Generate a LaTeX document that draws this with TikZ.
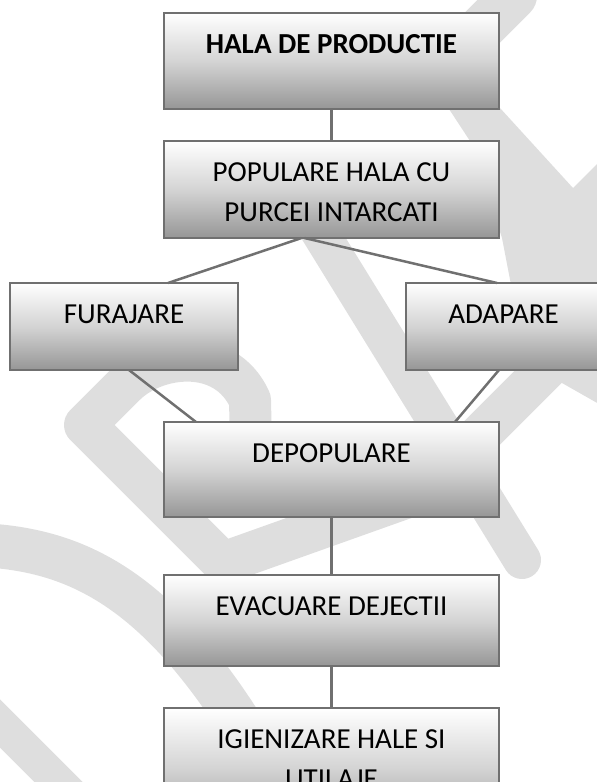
\documentclass[tikz,border=0pt]{standalone}
\usepackage{fontspec}
\setmainfont{Carlito}
\usepackage{tikz}
\usetikzlibrary{positioning, calc}
\definecolor{framegray}{RGB}{112,112,112}
\definecolor{wmgray}{RGB}{222,222,222}
\definecolor{shadelow}{RGB}{150,150,150}
\definecolor{shademid}{RGB}{212,212,212}
\tikzstyle{box} = [rectangle, draw=framegray, line width=2.5pt, top color=white, bottom color=shadelow, middle color=shademid, inner xsep=0pt, inner ysep=0pt, outer sep=0pt, text height=40pt, align=center, font=\fontsize{29pt}{40pt}\selectfont]
\tikzstyle{wide} = [minimum width=335pt]
\tikzstyle{narrow} = [minimum width=228pt]
\tikzstyle{link} = [draw=framegray, line width=2.5pt]
\tikzstyle{wmark} = [draw=wmgray, line cap=round, line join=round]

\begin{document}
\begin{tikzpicture}[x=1pt, y=-1pt, node distance=32pt]
        \useasboundingbox (0,0) rectangle (597,782);
        \clip (0,0) rectangle (597,782);

        % watermark in the background
        \draw [wmark, line width=46pt] (514,-4) -- (440,70);
        \fill [wmgray] (440,100) -- (500,108) -- (573,188) -- (650,111) -- (650,433) -- (562,383) -- (545,365) -- (512,290) -- (502,238) -- (470,141) -- (449,109) -- cycle;
        \draw [wmark, line width=38pt] (300,200) -- (522,560);
        \draw [wmark, line width=42pt] (620,295) -- (423.6,491.4) -- (222.9,562.9) -- (85,425) -- (125,385) .. controls (155,355) and (225,345) .. (250,400) -- (252,490);
        \draw [wmark, line width=44pt] (-20,545) .. controls (90,550) and (180,600) .. (290,810);
        \draw [wmark, line width=34pt] (-40,683.5) -- (120,843.5);

        \node (hala) [box, wide, text depth=56pt, anchor=north] at (331.5,13) {\textbf{HALA DE PRODUCTIE}};
        \node (popul) [box, wide, text height=80pt, text depth=17pt, below=of hala] {POPULARE HALA CU\\PURCEI INTARCATI};
        \node (fur) [box, narrow, text depth=47pt, below=45pt of popul, xshift=-207.5pt] {FURAJARE};
        \node (adap) [box, minimum width=195pt, text depth=47pt, below=45pt of popul, xshift=172pt] {ADAPARE};
        \node (depop) [box, wide, text depth=55pt, below=52pt of fur, xshift=207.5pt] {DEPOPULARE};
        \node (evac) [box, wide, text depth=51pt, below=58pt of depop] {EVACUARE DEJECTII};
        \node (igien) [box, wide, text height=80pt, text depth=40pt, below=42pt of evac] {IGIENIZARE HALE SI\\UTILAJE};

        \draw [link] (hala) -- (popul);
        \draw [link] ([xshift=-30pt]popul.south) -- ([xshift=44pt]fur.north);
        \draw [link] ([xshift=-27pt]popul.south) -- ([xshift=-6.5pt]adap.north);
        \draw [link] ([xshift=5pt]fur.south) -- ([xshift=-135.5pt]depop.north);
        \draw [link] ([xshift=-4.5pt]adap.south) -- ([xshift=123.5pt]depop.north);
        \draw [link] (depop) -- (evac);
        \draw [link] (evac) -- (igien);

\end{tikzpicture}
\end{document}
